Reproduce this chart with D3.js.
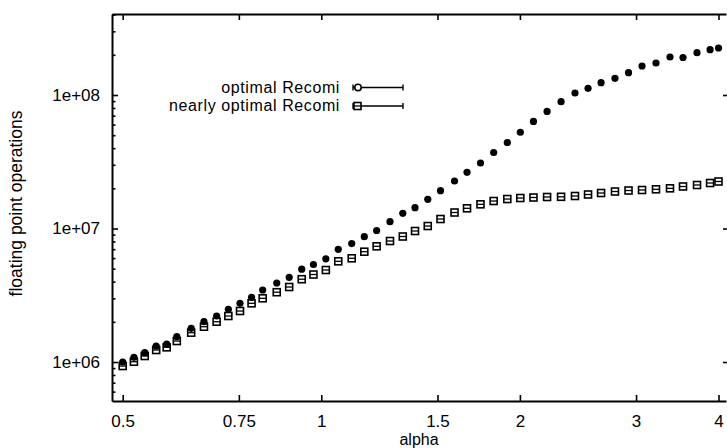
<!DOCTYPE html>
<html>
<head>
<meta charset="utf-8">
<script src="https://cdn.jsdelivr.net/npm/d3@7"></script>
<style>
html,body{margin:0;padding:0;background:#fff;}
svg{display:block;}
text{font-family:"Liberation Sans",Arial,Helvetica,sans-serif;fill:#000;}
</style>
</head>
<body>
<svg id="chart" width="727" height="448"></svg>
<script>
// ---- data ----
const alpha = [0.5,0.52,0.54,0.562,0.583,0.604,0.635,0.664,0.694,0.723,0.753,0.784,0.815,0.856,0.894,0.934,0.973,1.016,1.061,1.112,1.162,1.213,1.271,1.329,1.387,1.45,1.516,1.592,1.663,1.743,1.825,1.914,2.003,2.097,2.199,2.309,2.424,2.537,2.655,2.787,2.922,3.063,3.216,3.377,3.534,3.711,3.884,4.0];
// floating point operations, in millions
const optimalM = [1.0,1.084,1.174,1.318,1.364,1.547,1.788,2.004,2.211,2.482,2.753,3.052,3.462,3.906,4.311,4.957,5.375,5.93,6.985,7.706,8.682,9.661,11.25,13.0,14.32,16.55,19.19,22.69,26.36,30.95,37.1,44.08,52.63,63.43,75.4,89.08,103.5,112.2,123.7,133.4,146.9,164.9,173.7,192.6,190.9,207.5,218.5,224.9];
const nearlyM = [0.933,1.005,1.109,1.23,1.288,1.436,1.658,1.838,2.004,2.211,2.41,2.753,3.0,3.334,3.646,4.171,4.523,4.888,5.68,5.982,6.704,7.356,8.061,8.712,9.579,10.44,11.78,13.18,14.17,15.18,16.07,16.63,16.92,17.07,17.22,17.28,17.52,17.98,18.45,18.93,19.26,19.43,19.66,20.0,20.64,21.18,21.92,22.5];
const seriesNames = ["optimal Recomi", "nearly optimal Recomi"];
const xTicks = [0.5, 0.75, 1, 1.5, 2, 3, 4];
const xTickLabels = ["0.5", "0.75", "1", "1.5", "2", "3", "4"];
const yTicks = [1e6, 1e7, 1e8];
const yTickLabels = ["1e+06", "1e+07", "1e+08"];
const xLabel = "alpha";
const yLabel = "floating point operations";

// ---- layout ----
const svg = d3.select("#chart");
const L = 112, R = 727, T = 14, B = 401;
const FS = "17px";

const x = d3.scaleLog().domain([0.4817, 4.106]).range([L, 726]);
const y = d3.scaleLog().domain([5.105e5, 4.044e8]).range([B, T]);

const opt = alpha.map((a, i) => ({a, v: optimalM[i] * 1e6}));
const near = alpha.map((a, i) => ({a, v: nearlyM[i] * 1e6}));

// minor y ticks (2..9 per decade) inside domain
const yMinor = [];
for (let e = 5; e <= 8; e++) for (let k = 2; k <= 9; k++) {
  const v = k * Math.pow(10, e);
  if (v > y.domain()[0] && v < y.domain()[1]) yMinor.push(v);
}

function styleAxis(g) {
  g.select(".domain").attr("stroke", "#000").attr("stroke-width", 2);
  g.selectAll(".tick line").attr("stroke", "#000").attr("stroke-width", 1.6);
  g.selectAll(".tick text").style("font-size", FS).attr("fill", "#000");
}

// bottom
svg.append("g").attr("transform", `translate(0,${B})`)
  .call(d3.axisBottom(x).tickValues(xTicks).tickFormat((d, i) => xTickLabels[i])
    .tickSizeInner(-6).tickSizeOuter(0).tickPadding(14))
  .call(styleAxis).call(g => g.selectAll(".tick text").attr("dy", "0.71em"));
// top
svg.append("g").attr("transform", `translate(0,${T})`)
  .call(d3.axisTop(x).tickValues(xTicks).tickFormat("").tickSizeInner(-6).tickSizeOuter(0))
  .call(styleAxis);
// left
svg.append("g").attr("transform", `translate(${L},0)`)
  .call(d3.axisLeft(y).tickValues(yTicks).tickFormat((d, i) => yTickLabels[i])
    .tickSizeInner(-6).tickSizeOuter(0).tickPadding(12))
  .call(styleAxis);
svg.append("g").attr("transform", `translate(${L},0)`)
  .call(d3.axisLeft(y).tickValues(yMinor).tickFormat("").tickSizeInner(-3.5).tickSizeOuter(0))
  .call(styleAxis).call(g => g.select(".domain").remove());
// right (frame line falls at the very image edge)
svg.append("g").attr("transform", `translate(${R + 1},0)`)
  .call(d3.axisRight(y).tickValues(yTicks).tickFormat("").tickSizeInner(-5).tickSizeOuter(0))
  .call(styleAxis);

// axis titles
svg.append("text").attr("x", (L + 726) / 2).attr("y", 445)
  .attr("text-anchor", "middle").style("font-size", "16px").text(xLabel);
svg.append("text").attr("transform", `translate(16,${(107 + 300) / 2}) rotate(-90)`)
  .attr("text-anchor", "middle").attr("dominant-baseline", "central")
  .style("font-size", "17.5px").text(yLabel);

// ---- marks ----
const plot = svg.append("g");
plot.selectAll("g.sq").data(near).join("g").attr("class", "sq")
  .attr("transform", d => `translate(${x(d.a)},${y(d.v)})`)
  .each(function () {
    const g = d3.select(this);
    g.append("rect").attr("x", -3.5).attr("y", -3.5).attr("width", 7).attr("height", 7)
      .attr("fill", "#fff").attr("stroke", "#000").attr("stroke-width", 1.6);
    g.append("line").attr("x1", -3.5).attr("x2", 3.5).attr("y1", 0).attr("y2", 0)
      .attr("stroke", "#000").attr("stroke-width", 1.3);
  });
plot.selectAll("circle.op").data(opt).join("circle").attr("class", "op")
  .attr("cx", d => x(d.a)).attr("cy", d => y(d.v)).attr("r", 3.6).attr("fill", "#000");

// ---- legend ----
const leg = svg.append("g");
const legRows = [{name: seriesNames[0], cy: 87.5, base: 93, type: "c"},
                 {name: seriesNames[1], cy: 106, base: 111, type: "s"}];
legRows.forEach(r => {
  leg.append("text").attr("x", 340).attr("y", r.base).attr("text-anchor", "end")
    .style("font-size", "16px").style("letter-spacing", "0.6px").text(r.name);
  leg.append("line").attr("x1", 353).attr("x2", 403).attr("y1", r.cy).attr("y2", r.cy)
    .attr("stroke", "#000").attr("stroke-width", 1.4);
  [353, 403].forEach(cx => leg.append("line").attr("x1", cx).attr("x2", cx)
    .attr("y1", r.cy - 3).attr("y2", r.cy + 3).attr("stroke", "#000").attr("stroke-width", 1.4));
  if (r.type === "c") {
    leg.append("circle").attr("cx", 358).attr("cy", r.cy).attr("r", 3.2)
      .attr("fill", "#fff").attr("stroke", "#000").attr("stroke-width", 1.6);
  } else {
    leg.append("rect").attr("x", 354).attr("y", r.cy - 3.5).attr("width", 7).attr("height", 7)
      .attr("fill", "#fff").attr("stroke", "#000").attr("stroke-width", 1.6);
    leg.append("line").attr("x1", 354).attr("x2", 361).attr("y1", r.cy).attr("y2", r.cy)
      .attr("stroke", "#000").attr("stroke-width", 1.3);
  }
});
</script>
</body>
</html>
